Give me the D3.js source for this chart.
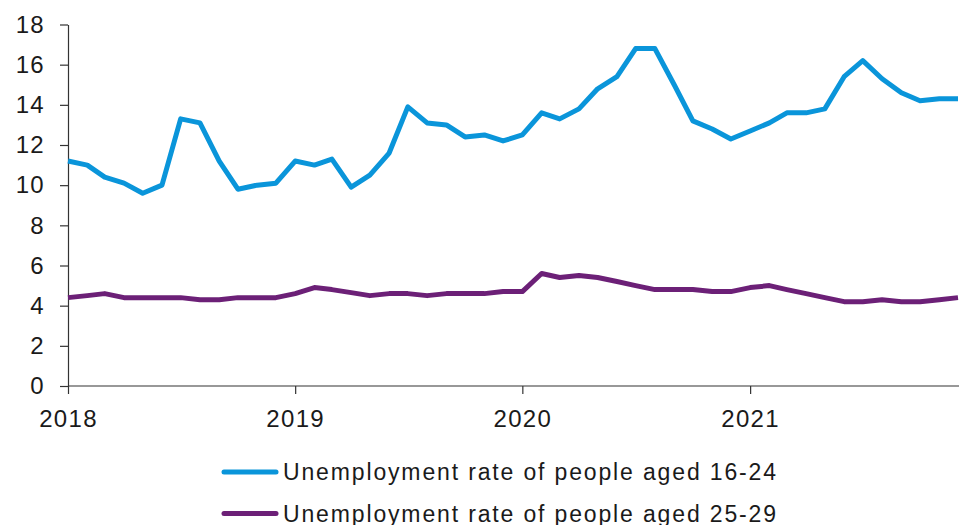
<!DOCTYPE html>
<html>
<head>
<meta charset="utf-8">
<script src="https://cdn.jsdelivr.net/npm/d3@7"></script>
<style>
  html, body { margin: 0; padding: 0; background: #fff; }
  svg { display: block; }
  text { font-family: "Liberation Sans", Arial, sans-serif; fill: #1a1a1a; }
</style>
</head>
<body>
<svg id="chart" width="959" height="525"></svg>
<script>
// Monthly data, Jan 2018 – Dec 2021
const startYear = 2018;
const monthCount = 48;
const youth1624 = [
  11.2, 11.0, 10.4, 10.1, 9.6, 10.0, 13.3, 13.1, 11.2, 9.8, 10.0, 10.1,
  11.2, 11.0, 11.3, 9.9, 10.5, 11.6, 13.9, 13.1, 13.0, 12.4, 12.5, 12.2,
  12.5, 13.6, 13.3, 13.8, 14.8, 15.4, 16.8, 16.8, 15.0, 13.2, 12.8, 12.3,
  12.7, 13.1, 13.6, 13.6, 13.8, 15.4, 16.2, 15.3, 14.6, 14.2, 14.3, 14.3
];
const young2529 = [
  4.4, 4.5, 4.6, 4.4, 4.4, 4.4, 4.4, 4.3, 4.3, 4.4, 4.4, 4.4,
  4.6, 4.9, 4.8, 4.65, 4.5, 4.6, 4.6, 4.5, 4.6, 4.6, 4.6, 4.7,
  4.7, 5.6, 5.4, 5.5, 5.4, 5.2, 5.0, 4.8, 4.8, 4.8, 4.7, 4.7,
  4.9, 5.0, 4.8, 4.6, 4.4, 4.2, 4.2, 4.3, 4.2, 4.2, 4.3, 4.4
];
const seriesNames = [
  "Unemployment rate of people aged 16-24",
  "Unemployment rate of people aged 25-29"
];
const seriesColors = ["#0a95da", "#6c2077"];
const yTicks = [0, 2, 4, 6, 8, 10, 12, 14, 16, 18];
const xTickYears = [2018, 2019, 2020, 2021];

const dates = d3.range(monthCount).map(i => new Date(startYear, i, 1));
const svg = d3.select("#chart");

const x = d3.scaleTime()
  .domain([dates[0], dates[dates.length - 1]])
  .range([68, 958]);
const y = d3.scaleLinear().domain([0, 18]).range([386, 24.5]);

const tickFont = sel => sel.attr("font-size", 24).attr("fill", "#1a1a1a")
  .style("letter-spacing", "1.3px")
  .style("font-family", "'Liberation Sans', Arial, sans-serif");

// Y axis
const yAxis = svg.append("g")
  .attr("transform", "translate(68,0)")
  .call(d3.axisLeft(y).tickValues(yTicks).tickSize(8).tickSizeOuter(0).tickPadding(15));
yAxis.select(".domain").attr("stroke", "#333").attr("stroke-width", 1.2);
yAxis.selectAll(".tick line").attr("stroke", "#333").attr("stroke-width", 1.2);
yAxis.selectAll("text").call(tickFont);

// X axis
const xAxis = svg.append("g")
  .attr("transform", "translate(0,386)")
  .call(d3.axisBottom(x)
    .tickValues(xTickYears.map(yr => new Date(yr, 0, 1)))
    .tickFormat(d3.timeFormat("%Y"))
    .tickSize(8).tickSizeOuter(0).tickPadding(16));
xAxis.select(".domain").attr("d", "M68,0H959").attr("stroke", "#333").attr("stroke-width", 1.2);
xAxis.selectAll(".tick line").attr("stroke", "#333").attr("stroke-width", 1.2);
xAxis.selectAll("text").call(tickFont);

// Lines
const line = d3.line().x((d, i) => x(dates[i])).y(d => y(d));
[youth1624, young2529].forEach((vals, k) => {
  svg.append("path")
    .datum(vals)
    .attr("d", line)
    .attr("fill", "none")
    .attr("stroke", seriesColors[k])
    .attr("stroke-width", 5)
    .attr("stroke-linejoin", "round");
});

// Legend
const legend = svg.append("g");
seriesNames.forEach((name, k) => {
  const cy = 472 + k * 41.5;
  legend.append("line")
    .attr("x1", 224).attr("x2", 276).attr("y1", cy).attr("y2", cy)
    .attr("stroke", seriesColors[k]).attr("stroke-width", 5)
    .attr("stroke-linecap", "round");
  legend.append("text")
    .attr("x", 283).attr("y", cy + 8)
    .attr("font-size", 23)
    .attr("textLength", 493)
    .attr("lengthAdjust", "spacing")
    .text(name);
});
</script>
</body>
</html>
